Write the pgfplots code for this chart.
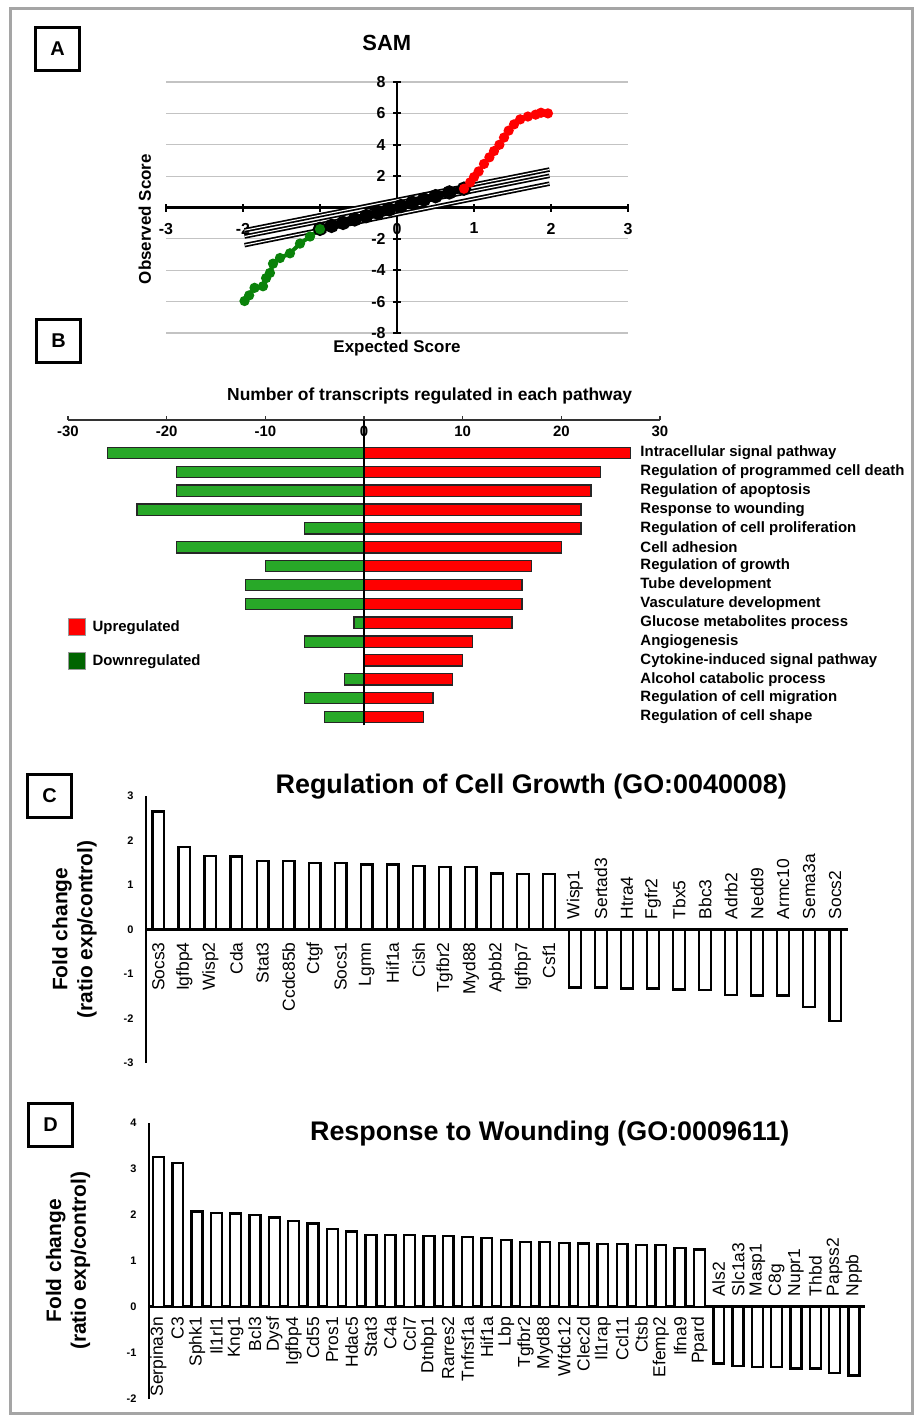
\documentclass[border=0pt]{standalone}
\usepackage{fontspec}
\setmainfont{Liberation Sans}
\usepackage{pgfplots}
\pgfplotsset{compat=1.18}
\usepackage{pgfplotstable}

\definecolor{upred}{RGB}{255,0,0}
\definecolor{barsgreen}{RGB}{40,168,40}
\definecolor{samgreen}{RGB}{10,130,10}
\definecolor{legendgreen}{RGB}{0,100,0}
\definecolor{framegray}{RGB}{165,165,165}
\definecolor{gridgray}{RGB}{195,195,195}

% ---- panel A: SAM plot
\pgfplotstableread{
x y
-1.98 -5.96
-1.92 -5.60
-1.85 -5.12
-1.74 -5.02
-1.70 -4.50
-1.65 -4.17
-1.61 -3.58
-1.52 -3.22
-1.39 -2.92
-1.26 -2.30
-1.13 -1.85
-1.00 -1.38
}\samdown
\pgfplotstableread{
x y
0.87 1.20
0.95 1.60
1.00 1.94
1.06 2.30
1.13 2.78
1.20 3.20
1.26 3.60
1.33 4.00
1.39 4.46
1.45 4.90
1.52 5.30
1.60 5.62
1.70 5.80
1.80 5.92
1.87 6.04
1.96 6.00
}\samup
\pgfplotstableread{
x y
-1.00 -1.36
-0.85 -1.17
-0.70 -0.98
-0.55 -0.76
-0.40 -0.55
-0.25 -0.33
-0.10 -0.12
0.05 0.09
0.20 0.30
0.35 0.51
0.50 0.72
0.68 0.96
0.87 1.20
}\samnull

% ---- panel B: pathways
\pgfplotstableread[col sep=comma]{
y,up,down,label
14,27,-26,Intracellular signal pathway
13,24,-19,Regulation of programmed cell death
12,23,-19,Regulation of apoptosis
11,22,-23,Response to wounding
10,22,-6,Regulation of cell proliferation
9,20,-19,Cell adhesion
8,17,-10,Regulation of growth
7,16,-12,Tube development
6,16,-12,Vasculature development
5,15,-1,Glucose metabolites process
4,11,-6,Angiogenesis
3,10,0,Cytokine-induced signal pathway
2,9,-2,Alcohol catabolic process
1,7,-6,Regulation of cell migration
0,6,-4,Regulation of cell shape
}\pathways

% ---- panel C: cell growth
\pgfplotstableread{
x y label
0 2.65 Socs3
1 1.85 Igfbp4
2 1.65 Wisp2
3 1.64 Cda
4 1.54 Stat3
5 1.54 Ccdc85b
6 1.50 Ctgf
7 1.49 Socs1
8 1.46 Lgmn
9 1.46 Hif1a
10 1.43 Cish
11 1.41 Tgfbr2
12 1.41 Myd88
13 1.26 Apbb2
14 1.24 Igfbp7
15 1.24 Csf1
}\growthup
\pgfplotstableread{
x y label
16 -1.31 Wisp1
17 -1.31 Sertad3
18 -1.33 Htra4
19 -1.33 Fgfr2
20 -1.35 Tbx5
21 -1.37 Bbc3
22 -1.48 Adrb2
23 -1.49 Nedd9
24 -1.49 Armc10
25 -1.74 Sema3a
26 -2.06 Socs2
}\growthdown

% ---- panel D: wounding
\pgfplotstableread{
x y label
0 3.25 Serpina3n
1 3.13 C3
2 2.07 Sphk1
3 2.04 Il1rl1
4 2.03 Kng1
5 2.00 Bcl3
6 1.94 Dysf
7 1.86 Igfbp4
8 1.81 Cd55
9 1.69 Pros1
10 1.64 Hdac5
11 1.56 Stat3
12 1.56 C4a
13 1.56 Ccl7
14 1.54 Dtnbp1
15 1.54 Rarres2
16 1.52 Tnfrsf1a
17 1.50 Hif1a
18 1.45 Lbp
19 1.41 Tgfbr2
20 1.41 Myd88
21 1.39 Wfdc12
22 1.38 Clec2d
23 1.36 Il1rap
24 1.36 Ccl11
25 1.34 Ctsb
26 1.34 Efemp2
27 1.28 Ifna9
28 1.25 Ppard
}\woundup
\pgfplotstableread{
x y label
29 -1.23 Als2
30 -1.28 Slc1a3
31 -1.30 Masp1
32 -1.30 C8g
33 -1.34 Nupr1
34 -1.34 Thbd
35 -1.43 Papss2
36 -1.49 Nppb
}\wounddown

\newcommand{\fs}[1]{\fontsize{#1}{#1}\selectfont}

\pgfplotsset{
  genebars/.style={
    scale only axis, clip=false,
    axis x line=middle, axis y line=left,
    x axis line style={-, line width=3bp},
    y axis line style={-, line width=2bp},
    xtick=\empty, major tick length=0pt,
    /pgf/number format/assume math mode=true,
    yticklabel style={font=\bfseries\fs{11}, xshift=-9bp},
    every axis y label/.style={rotate=90, anchor=center, align=center,
      font=\bfseries\fontsize{21}{25}\selectfont},
  },
  genelabels/.style={draw=none, nodes near coords, point meta=explicit symbolic,
    every node near coord/.append style={rotate=90, anchor=#1, inner sep=0pt, font=\fs{17.5}}},
}

\begin{document}
\begin{tikzpicture}
\useasboundingbox (0,0) rectangle (919bp,-1418bp);
\fill[white] (0,0) rectangle (919bp,-1418bp);
\draw[framegray, line width=3bp] (10bp,-8bp) rectangle (912bp,-1413bp);

\tikzset{panel/.style={draw=black, line width=3bp, fill=white, minimum width=44bp,
  minimum height=43bp, inner sep=0pt, font=\bfseries\fs{20}}}
\node[panel] at (57.5bp,-49bp) {A};
\node[panel] at (58.5bp,-341bp) {B};
\node[panel] at (49.5bp,-796bp) {C};
\node[panel] at (50.5bp,-1125bp) {D};

% ---------------- A
\begin{axis}[
  at={(166bp,-333bp)}, anchor=south west,
  scale only axis, width=462bp, height=251bp, clip=false,
  xmin=-3, xmax=3, ymin=-8, ymax=8,
  axis lines=middle,
  axis line style={-, line width=2.6bp, black},
  xtick={-3,...,3}, ytick={-8,-6,...,8},
  hide obscured x ticks=false, hide obscured y ticks=false,
  tick align=center, major tick length=8bp,
  tick style={line width=2.2bp, black},
  ymajorgrids, grid style={gridgray, line width=1.2bp},
  /pgf/number format/assume math mode=true,
  tick label style={font=\bfseries\fs{16}},
  xticklabel style={yshift=-8bp},
  yticklabel style={xshift=-4bp},
  title={SAM},
  every axis title/.style={at={(axis description cs:0.478,1.11)}, anchor=south, font=\bfseries\fs{22}},
  xlabel={Expected Score}, ylabel={Observed Score},
  every axis x label/.style={at={(axis description cs:0.5,0)}, anchor=north, yshift=-4bp, font=\bfseries\fs{17}},
  every axis y label/.style={at={(axis description cs:-0.025,0.454)}, anchor=south, rotate=90, font=\bfseries\fs{17}},
]
\addplot[draw=black, double=white, double distance=1.1bp, line width=1.7bp] coordinates {(-1.98,-1.45) (1.98,2.42)};
\addplot[draw=black, double=white, double distance=1.1bp, line width=1.7bp] coordinates {(-1.98,-1.85) (1.98,2.02)};
\addplot[draw=black, double=white, double distance=1.1bp, line width=1.7bp] coordinates {(-1.98,-2.40) (1.98,1.52)};
\addplot[black, line width=7bp, mark=*, mark size=3.5bp] table {\samnull};
\addplot[samgreen, line width=4bp, mark=*, mark size=3bp] table {\samdown};
\addplot[upred, line width=4bp, mark=*, mark size=3bp] table {\samup};
\end{axis}

% ---------------- B
\begin{axis}[
  at={(68bp,-726.4bp)}, anchor=south west,
  scale only axis, width=592bp, height=306.4bp, clip=false,
  xmin=-30, xmax=30, ymin=-0.5, ymax=15.75,
  axis x line*=top, axis y line=none,
  x axis line style={-, line width=1.8bp, black!80},
  xtick={-30,-20,...,30}, ytick=\empty,
  tick align=outside, major tick length=4bp,
  tick style={line width=1.5bp, black!80},
  /pgf/number format/assume math mode=true,
  xticklabel style={anchor=north, yshift=-7bp, font=\bfseries\fs{15}},
  title={Number of transcripts regulated in each pathway},
  every axis title/.style={at={(axis description cs:0.611,1.077)}, anchor=center, font=\bfseries\fs{17.5}},
  legend style={at={(axis cs:-30,5.24)}, anchor=north west, draw=none, fill=none,
    inner sep=0pt, row sep=16bp, font=\bfseries\fs{15}},
  legend cell align=left,
]
\addplot[forget plot, xbar, bar shift=0pt, bar width=0.6, fill=upred, draw=black!85, line width=1.3bp]
  table[x=up, y=y] {\pathways};
\addplot[forget plot, xbar, bar shift=0pt, bar width=0.6, fill=barsgreen, draw=black!85, line width=1.3bp]
  table[x=down, y=y] {\pathways};
\addplot[forget plot, black, line width=1.5bp] coordinates {(0,-0.45) (0,15.75)};
\addplot[forget plot, draw=none, nodes near coords, point meta=explicit symbolic,
  every node near coord/.append style={anchor=west, inner sep=0pt, font=\bfseries\fs{15}}]
  table[x expr=28, y=y, meta=label] {\pathways};
\addlegendimage{legend image code/.code={\filldraw[fill=upred, draw=black!40, line width=0.8bp] (0bp,-8.5bp) rectangle (17bp,8.5bp); \path[draw=none, fill=none] (0bp,-1bp) rectangle (22bp,1bp);}}
\addlegendentry{Upregulated}
\addlegendimage{legend image code/.code={\filldraw[fill=legendgreen, draw=black!40, line width=0.8bp] (0bp,-8.5bp) rectangle (17bp,8.5bp); \path[draw=none, fill=none] (0bp,-1bp) rectangle (22bp,1bp);}}
\addlegendentry{Downregulated}
\end{axis}

% ---------------- C
\begin{axis}[
  genebars,
  at={(146bp,-1062.7bp)}, anchor=south west,
  width=701.7bp, height=266.7bp,
  xmin=-0.476, xmax=26.48, ymin=-3, ymax=3,
  ytick={-3,...,3},
  title={Regulation of Cell Growth (GO:0040008)},
  every axis title/.style={at={(axis description cs:0.549,1.011)}, anchor=base, font=\bfseries\fs{27}},
  ylabel={Fold change\\(ratio exp/control)},
  every axis y label/.append style={at={(axis description cs:-0.102,0.5)}},
]
\addplot[ybar, bar shift=0pt, bar width=0.45, fill=white, draw=black, line width=2.3bp] table[x=x, y=y] {\growthup};
\addplot[ybar, bar shift=0pt, bar width=0.45, fill=white, draw=black, line width=2.3bp] table[x=x, y=y] {\growthdown};
\addplot[genelabels=east] table[x=x, y expr=-0.29, meta=label] {\growthup};
\addplot[genelabels=west] table[x=x, y expr=0.225, meta=label] {\growthdown};
\end{axis}

% ---------------- D
\begin{axis}[
  genebars,
  at={(149bp,-1399bp)}, anchor=south west,
  width=715.6bp, height=276.3bp,
  xmin=-0.487, xmax=36.55, ymin=-2, ymax=4,
  ytick={-2,...,4},
  title={Response to Wounding (GO:0009611)},
  every axis title/.style={at={(axis description cs:0.560,0.935)}, anchor=base, font=\bfseries\fs{27}},
  ylabel={Fold change\\(ratio exp/control)},
  every axis y label/.append style={at={(axis description cs:-0.113,0.5)}},
]
\addplot[ybar, bar shift=0pt, bar width=0.56, fill=white, draw=black, line width=2.4bp] table[x=x, y=y] {\woundup};
\addplot[ybar, bar shift=0pt, bar width=0.56, fill=white, draw=black, line width=2.4bp] table[x=x, y=y] {\wounddown};
\addplot[genelabels=east] table[x=x, y expr=-0.217, meta=label] {\woundup};
\addplot[genelabels=west] table[x=x, y expr=0.232, meta=label] {\wounddown};
\end{axis}
\end{tikzpicture}
\end{document}
